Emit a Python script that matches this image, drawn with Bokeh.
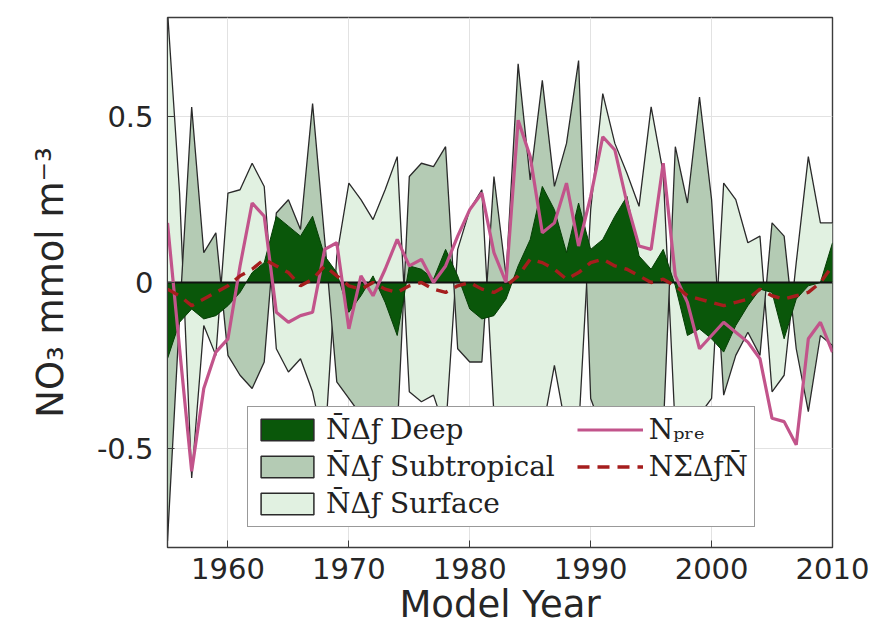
from bokeh.plotting import figure
from bokeh.models import ColumnDataSource, Legend, LegendItem, FixedTicker, Range1d
from bokeh.embed import file_html
from bokeh.resources import INLINE

years = list(range(1955, 2011))
x_ticks = [1960, 1970, 1980, 1990, 2000, 2010]
y_ticks = [-0.5, 0, 0.5]
y_tick_labels = {-0.5: "-0.5", 0: "0", 0.5: "0.5"}

deep = [-0.23, -0.12, -0.08, -0.11, -0.10, -0.07, -0.03, 0.03, 0.06, 0.20,
        0.17, 0.14, 0.20, 0.08, 0.03, -0.09, -0.04, 0.02, -0.06, -0.16,
        0.05, 0.04, 0.01, 0.10, 0.02, -0.08, -0.11, -0.10, -0.05, 0.05,
        0.13, 0.29, 0.22, 0.09, 0.24, 0.10, 0.13, 0.20, 0.26, 0.08,
        0.04, 0.10, -0.01, -0.16, -0.14, -0.17, -0.21, -0.13, -0.07, -0.02,
        -0.03, -0.17, -0.05, -0.01, 0.00, 0.12]
subtropical = [-0.78, -0.10, 0.53, 0.09, 0.15, -0.22, -0.28, -0.32, -0.24, 0.21,
               0.25, 0.16, 0.54, 0.13, -0.30, -0.35, -0.40, -0.45, -0.45, -0.45,
               0.32, 0.36, 0.35, 0.41, -0.20, -0.24, -0.24, 0.32, 0.02, 0.66,
               0.31, 0.61, 0.29, 0.42, 0.67, -0.35, -0.45, -0.45, -0.45, -0.45,
               -0.45, -0.45, 0.41, 0.24, 0.56, 0.25, -0.34, -0.22, -0.15, -0.22,
               0.18, 0.14, -0.20, -0.39, -0.16, -0.19]
surface = [0.82, 0.27, -0.59, -0.13, -0.22, 0.27, 0.28, 0.36, 0.29, -0.20,
           -0.27, -0.23, -0.33, -0.50, 0.08, 0.30, 0.25, 0.19, 0.28, 0.38,
           -0.33, -0.36, -0.34, -0.45, 0.10, 0.22, 0.28, -0.40, -0.45, -0.45,
           -0.45, -0.45, -0.25, -0.45, -0.45, 0.22, 0.57, 0.42, 0.33, 0.23,
           0.53, 0.33, -0.45, -0.45, -0.40, -0.35, 0.30, 0.25, 0.12, 0.14,
           -0.33, -0.28, 0.06, 0.38, 0.18, 0.18]
n_pre = [0.18, -0.20, -0.57, -0.32, -0.21, -0.17, 0.05, 0.24, 0.20, -0.09,
         -0.12, -0.10, -0.09, 0.10, 0.12, -0.14, 0.02, -0.04, 0.04, 0.13,
         0.05, 0.07, 0.00, 0.05, 0.14, 0.22, 0.27, 0.09, 0.00, 0.49,
         0.38, 0.15, 0.18, 0.30, 0.11, 0.26, 0.44, 0.40, 0.24, 0.11,
         0.10, 0.36, 0.02, -0.06, -0.20, -0.16, -0.12, -0.15, -0.18, -0.23,
         -0.41, -0.42, -0.49, -0.17, -0.12, -0.21]
n_sum = [-0.02, -0.04, -0.07, -0.05, -0.03, -0.01, 0.02, 0.04, 0.07, 0.05,
         0.03, -0.01, 0.01, 0.05, 0.02, -0.01, -0.02, 0.00, -0.02, -0.03,
         -0.01, 0.00, -0.02, -0.03, -0.01, 0.00, -0.02, -0.03, -0.01, 0.02,
         0.07, 0.06, 0.04, 0.01, 0.03, 0.06, 0.07, 0.05, 0.04, 0.02,
         0.00, 0.01, -0.01, -0.04, -0.05, -0.06, -0.07, -0.06, -0.05, -0.02,
         -0.04, -0.05, -0.04, -0.03, 0.00, 0.05]

DARK = "#0a570a"
MED = "#b4cbb4"
LIGHT = "#e1f1e1"
PINK = "#c2548b"
RED = "#a51d1d"
EDGE = "#2a2a2a"

src = ColumnDataSource(dict(year=years, deep=deep, subtropical=subtropical,
                            surface=surface, n_pre=n_pre, n_sum=n_sum))

p = figure(frame_width=665, frame_height=530,
           x_range=Range1d(1955, 2010), y_range=Range1d(-0.8, 0.8),
           output_backend="svg", toolbar_location=None,
           min_border_left=167, min_border_right=46,
           min_border_top=17, min_border_bottom=93)
p.background_fill_color = "white"
p.outline_line_color = "#3c3c3c"
p.outline_line_width = 1.4

p.xaxis.ticker = FixedTicker(ticks=x_ticks)
p.yaxis.ticker = FixedTicker(ticks=y_ticks)
p.yaxis.major_label_overrides = y_tick_labels
p.xgrid.ticker = FixedTicker(ticks=x_ticks)
p.ygrid.ticker = FixedTicker(ticks=y_ticks)
p.xgrid.grid_line_color = "#e2e2e2"
p.ygrid.grid_line_color = "#e2e2e2"
p.xaxis.axis_label = "Model Year"
p.yaxis.axis_label = "NO\u2083 mmol m\u207b\u00b3"
for ax in (p.xaxis[0], p.yaxis[0]):
    ax.major_label_text_font = "DejaVu Sans"
    ax.major_label_text_font_size = "29px"
    ax.major_label_text_color = "#262626"
    ax.axis_label_text_font = "DejaVu Sans"
    ax.axis_label_text_font_size = "37px"
    ax.axis_label_text_font_style = "normal"
    ax.axis_label_text_color = "#262626"
    ax.major_tick_in = 7
    ax.major_tick_out = 0
    ax.minor_tick_line_color = None
    ax.axis_line_color = "#3c3c3c"
    ax.major_tick_line_color = "#3c3c3c"
p.xaxis.major_label_standoff = 10
p.xaxis.axis_label_standoff = 1
p.yaxis.major_label_standoff = 14
p.yaxis.axis_label_standoff = 22

p.varea(x="year", y1=0, y2="surface", source=src, fill_color=LIGHT)
p.line("year", "surface", source=src, line_color=EDGE, line_width=1.3)
p.varea(x="year", y1=0, y2="subtropical", source=src, fill_color=MED)
p.line("year", "subtropical", source=src, line_color=EDGE, line_width=1.3)
p.varea(x="year", y1=0, y2="deep", source=src, fill_color=DARK)
p.line("year", "deep", source=src, line_color="#063d06", line_width=1)
p.hspan(y=[0], line_color="#111111", line_width=1.8)
r_pre = p.line("year", "n_pre", source=src, line_color=PINK, line_width=3.2)
r_sum = p.line("year", "n_sum", source=src, line_color=RED, line_width=3.4, line_dash="12 8")

# legend swatches (hidden renderers, only used to draw the legend keys)
prox = []
for col, fc in (("deep", DARK), ("subtropical", MED), ("surface", LIGHT)):
    r = p.quad(left="year", right="year", top=col, bottom=col, source=src,
               fill_color=fc, line_color=EDGE, line_width=1.5)
    r.visible = False
    prox.append(r)

legend = Legend(items=[
    LegendItem(label="N\u0304\u0394\u0192 Deep", renderers=[prox[0]]),
    LegendItem(label="N\u0304\u0394\u0192 Subtropical\u00a0\u00a0", renderers=[prox[1]]),
    LegendItem(label="N\u0304\u0394\u0192 Surface", renderers=[prox[2]]),
    LegendItem(label="N\u209a\u1d63\u2091", renderers=[r_pre]),
    LegendItem(label="N\u03a3\u0394\u0192N\u0304", renderers=[r_sum]),
], location=(80, 20), nrows=3, orientation="vertical")
legend.label_text_font = "DejaVu Serif"
legend.label_text_font_size = "28px"
legend.label_text_color = "#222222"
legend.glyph_width = 66
legend.glyph_height = 27
legend.label_standoff = 6
legend.spacing = 4
legend.padding = 6
legend.margin = 0
legend.border_line_color = "#333333"
legend.border_line_width = 1.5
legend.background_fill_alpha = 1.0
legend.inactive_fill_alpha = 0.0
p.add_layout(legend)

open("out.html", "w").write(file_html(p, INLINE))
